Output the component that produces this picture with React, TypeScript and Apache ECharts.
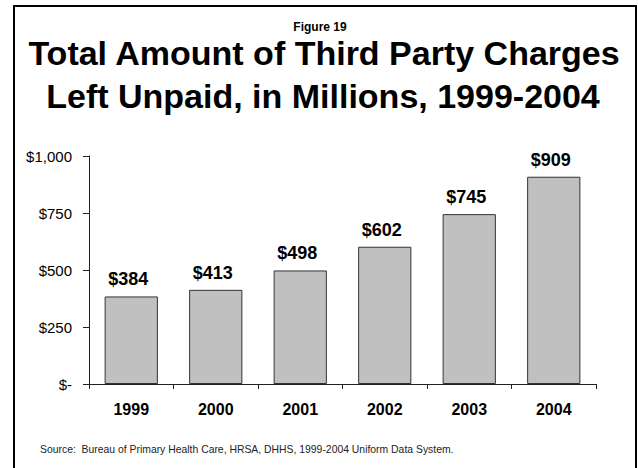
import React, { useEffect, useRef } from "react";
import * as echarts from "echarts";

const categories = ["1999", "2000", "2001", "2002", "2003", "2004"];
const unpaidMillions = [384, 413, 498, 602, 745, 909];
const yMin = 0;
const yMax = 1000;
const yInterval = 250;

const figureLabel = "Figure 19";
const titleLines = ["Total Amount of Third Party Charges", "Left Unpaid, in Millions, 1999-2004"];
const sourceText = "Source:  Bureau of Primary Health Care, HRSA, DHHS, 1999-2004 Uniform Data System.";

const FONT = "Arial, 'Liberation Sans', Helvetica, sans-serif";

export default function App() {
  const ref = useRef<HTMLDivElement>(null);
  useEffect(() => {
    if (!ref.current) return;
    const chart = echarts.init(ref.current, null, { renderer: "svg" });
    chart.setOption({
      animation: false,
      backgroundColor: "#ffffff",
      graphic: [
        {
          type: "rect",
          shape: { x: 14, y: 6, width: 622, height: 480 },
          style: { fill: "none", stroke: "#000", lineWidth: 2 },
          silent: true,
        },
        {
          type: "text",
          x: 320,
          y: 26.5,
          style: {
            text: figureLabel,
            fontFamily: FONT,
            fontSize: 12,
            fontWeight: "bold",
            fill: "#000",
            align: "center",
            verticalAlign: "middle",
          },
        },
        {
          type: "text",
          x: 324,
          y: 53,
          style: {
            text: titleLines[0],
            fontFamily: FONT,
            fontSize: 34,
            fontWeight: "bold",
            fill: "#000",
            align: "center",
            verticalAlign: "middle",
          },
        },
        {
          type: "text",
          x: 323,
          y: 96,
          style: {
            text: titleLines[1],
            fontFamily: FONT,
            fontSize: 34,
            fontWeight: "bold",
            fill: "#000",
            align: "center",
            verticalAlign: "middle",
          },
        },
        {
          type: "text",
          x: 40,
          y: 449,
          style: {
            text: sourceText,
            fontFamily: FONT,
            fontSize: 10.4,
            fill: "#222",
            verticalAlign: "middle",
          },
        },
      ],
      grid: { left: 89, right: 42, top: 156, bottom: 84, containLabel: false },
      xAxis: {
        type: "category",
        data: categories,
        axisLine: { lineStyle: { color: "#222", width: 1 } },
        axisTick: { show: true, length: 5, inside: false, lineStyle: { color: "#222" } },
        axisLabel: { margin: 17, fontFamily: FONT, fontSize: 16, fontWeight: "bold", color: "#000" },
      },
      yAxis: {
        type: "value",
        min: yMin,
        max: yMax,
        interval: yInterval,
        splitLine: { show: false },
        axisLine: { show: true, lineStyle: { color: "#222", width: 1 } },
        axisTick: { show: true, length: 6, inside: false, lineStyle: { color: "#222" } },
        axisLabel: {
          margin: 17,
          fontFamily: FONT,
          fontSize: 15,
          color: "#000",
          formatter: (v: number) => (v === 0 ? "$-" : "$" + v.toLocaleString("en-US")),
        },
      },
      series: [
        {
          type: "bar",
          data: unpaidMillions,
          barCategoryGap: "37%",
          itemStyle: { color: "#c0c0c0", borderColor: "#333", borderWidth: 1 },
          label: {
            show: true,
            position: "top",
            distance: 8,
            offset: [-3, 0],
            fontFamily: FONT,
            fontSize: 18,
            fontWeight: "bold",
            color: "#000",
            formatter: (p: any) => "$" + p.value,
          },
        },
      ],
    });
    return () => chart.dispose();
  }, []);
  return <div ref={ref} style={{ position: "absolute", left: 0, top: 0, width: 638, height: 468 }} />;
}
